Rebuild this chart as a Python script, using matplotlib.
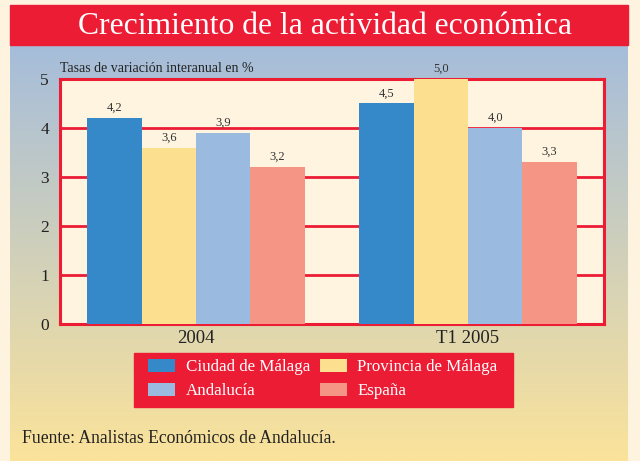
import numpy as np
import matplotlib
matplotlib.use("Agg")
import matplotlib.pyplot as plt
from matplotlib.colors import LinearSegmentedColormap
from matplotlib.patches import Rectangle

periods = ["2004", "T1 2005"]
series = ["Ciudad de Málaga", "Provincia de Málaga", "Andalucía", "España"]
values = {
    "Ciudad de Málaga": [4.2, 4.5],
    "Provincia de Málaga": [3.6, 5.0],
    "Andalucía": [3.9, 4.0],
    "España": [3.2, 3.3],
}
colors = ["#3589c9", "#fde08f", "#9bbae0", "#f59585"]
yticks = [0, 1, 2, 3, 4, 5]

RED = "#ec1c35"
W, H = 640, 461
plt.rcParams["font.family"] = ["Liberation Serif", "DejaVu Serif"]

fig = plt.figure(figsize=(W / 100, H / 100), dpi=100, facecolor="#fef3df")


def box(x0, y0, x1, y1):
    # pixel box (top-left origin) -> figure fraction rect
    return [x0 / W, 1 - y1 / H, (x1 - x0) / W, (y1 - y0) / H]


# gradient panel behind everything
bg = fig.add_axes(box(10, 45, 628, 461), zorder=0)
cmap = LinearSegmentedColormap.from_list("bg", ["#a5bddb", "#fbe39a"])
bg.imshow(np.linspace(0, 1, 256).reshape(-1, 1), aspect="auto", cmap=cmap,
          extent=[0, 1, 0, 1], origin="upper")
bg.set_axis_off()

# title bar
fig.patches.append(Rectangle((10 / W, 1 - 45 / H), 618 / W, 40 / H,
                             transform=fig.transFigure, color=RED, zorder=1))
fig.text(325 / W, 1 - 26 / H, "Crecimiento de la actividad económica",
         color="white", fontsize=22.8, ha="center", va="center", zorder=2)

ax = fig.add_axes(box(60, 79, 604, 324), zorder=2)
ax.set_facecolor("#fef4e0")

x = np.arange(len(periods))
width = 0.2
for i, name in enumerate(series):
    bars = ax.bar(x + (i - 1.5) * width, values[name], width, color=colors[i],
                  label=name, zorder=3)
    ax.bar_label(bars, labels=[f"{v:.1f}".replace(".", ",") for v in values[name]],
                 padding=3, fontsize=9, color="#333333", zorder=4)

ax.set_xlim(-0.5, 1.5)
ax.set_ylim(0, 5)
ax.set_yticks(yticks)
ax.set_xticks(x)
ax.set_xticklabels(periods, fontsize=13.5, color="#222222")
ax.tick_params(axis="y", labelsize=12.5, colors="#222222", length=0, pad=8)
ax.tick_params(axis="x", length=0, pad=4)
ax.grid(axis="y", color=RED, linewidth=2, zorder=1)
for s in ax.spines.values():
    s.set_color(RED)
    s.set_linewidth(2.2)

fig.text(60 / W, 1 - 68 / H, "Tasas de variación interanual en %",
         fontsize=10, color="#222222", ha="left", va="center")

# legend in a red box
fig.patches.append(Rectangle((134 / W, 1 - 407 / H), 379 / W, 54 / H,
                             transform=fig.transFigure, color=RED, zorder=1))
handles, labels = ax.get_legend_handles_labels()
order = [0, 2, 1, 3]
leg = fig.legend([handles[k] for k in order], [labels[k] for k in order],
                 ncol=2, loc="center", bbox_to_anchor=(323 / W, 1 - 379 / H),
                 frameon=False, fontsize=12.2, labelcolor="white",
                 handlelength=1.6, handleheight=0.8, columnspacing=0.6,
                 handletextpad=0.6, labelspacing=0.45)

fig.text(22 / W, 1 - 438 / H, "Fuente: Analistas Económicos de Andalucía.",
         fontsize=12.7, color="#222222", ha="left", va="center")

fig.savefig("out.png", dpi=100, facecolor=fig.get_facecolor())
